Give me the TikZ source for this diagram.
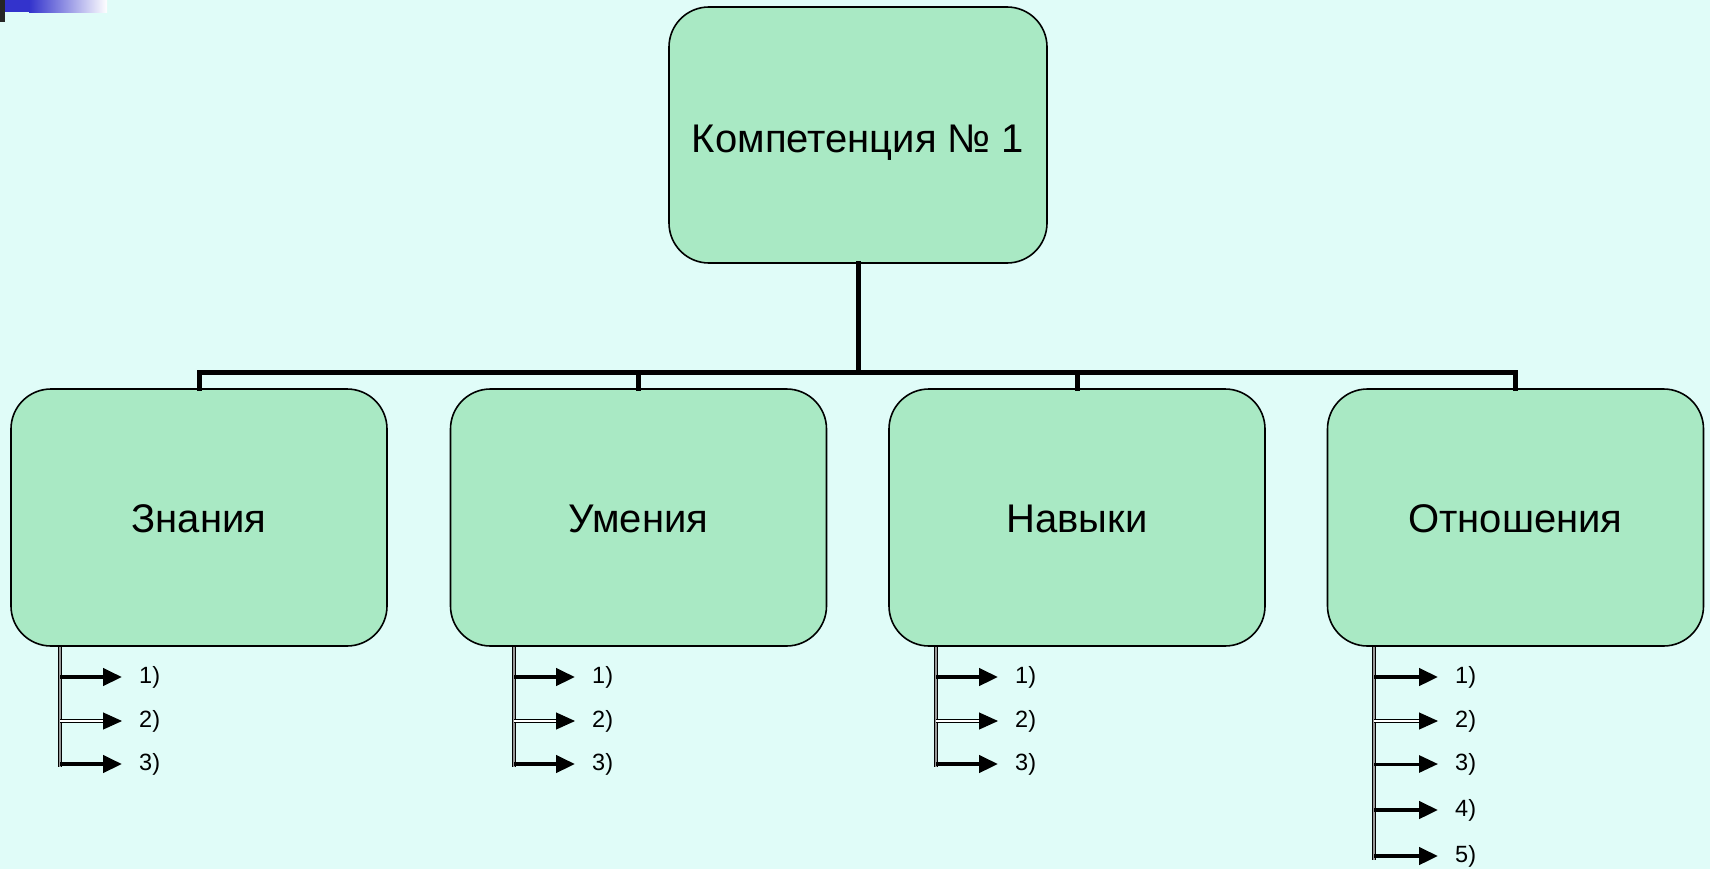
\documentclass[tikz,border=0pt]{standalone}
\usepackage{fontspec}
\setmainfont{Liberation Sans}
\usetikzlibrary{arrows.meta}
\definecolor{bg}{RGB}{224,252,248}
\definecolor{boxfill}{RGB}{169,233,196}
\definecolor{deco}{RGB}{51,51,204}
\tikzset{
  box/.style={draw=black, line width=1.6pt, fill=boxfill, rounded corners=40pt,
    minimum width=376pt, minimum height=257pt, inner sep=0pt, text depth=0pt,
    font=\fontsize{40}{48}\selectfont},
  bar/.style={line width=5pt, line join=miter, line cap=rect},
  vline/.style={draw=black, line width=1pt, double=gray!80, double distance=2pt},
  subarr/.style={line width=4.5pt, -{Triangle[length=19pt,width=17pt]}},
  subarrd/.style={draw=black, line width=1pt, double=white, double distance=2.5pt, -{Triangle[length=19pt,width=17pt]}},
  subarrt/.style={line width=3pt, -{Triangle[length=19pt,width=17pt]}},
  lab/.style={anchor=west, inner sep=0pt, font=\fontsize{23.5}{28}\selectfont}
}
\begin{document}
\begin{tikzpicture}[x=1pt,y=-1pt]
\fill[bg] (0,0) rectangle (1710,869);
\useasboundingbox (0,0) rectangle (1710,869);
% top-left decoration
\fill[black!85] (0,0) rectangle (5,22);
\fill[deco] (5,0) rectangle (29,12);
\shade[left color=deco, right color=white] (29,0) rectangle (107,13);

\node[box, minimum width=378pt, minimum height=256pt] (top) at (858,135) {\raisebox{-6.5pt}{Компетенция № 1}};
\node[box] (c1) at (199,517.5) {\raisebox{-2pt}{Знания}};
\node[box] (c2) at (638.5,517.5) {\raisebox{-2pt}{Умения}};
\node[box] (c3) at (1077,517.5) {\raisebox{-2pt}{Навыки}};
\node[box] (c4) at (1515.5,517.5) {\raisebox{-2pt}{Отношения}};

\coordinate (j) at (858,372);
\draw[bar] (top.south) -- (j);
\draw[bar] (c1.north) -- (c1.north |- j) -- (c4.north |- j) -- (c4.north);
\draw[bar] (c2.north) -- (c2.north |- j);
\draw[bar] (c3.north) -- (c3.north |- j);

% sub items
\foreach \c/\vx/\ax/\lx/\n in {c1/60/122/139/3, c2/514/575/592/3, c3/936/998/1015/3, c4/1374/1438/1455/5}{
  \coordinate (\c v) at (\vx,647);
  \foreach \i/\y in {1/677,2/721,3/764,4/810,5/856}{
    \ifnum\i>\n\else
      \node[lab] (\c l\i) at (\lx,\y) {\i)};
      \coordinate (\c a\i) at (\ax,\y);
    \fi
  }
}
\foreach \c/\n/\e in {c1/3/767, c2/3/767, c3/3/767, c4/5/860}{
  \draw[vline] (\c v) -- (\c v |- 0,\e);
}
\foreach \c in {c1,c2,c3}{
  \draw[subarr] (\c v |- \c l1) -- (\c a1);
  \draw[subarrd] (\c v |- \c l2) -- (\c a2);
  \draw[subarr] (\c v |- \c l3) -- (\c a3);
}
\draw[subarr] (c4v |- c4l1) -- (c4a1);
\draw[subarrd] (c4v |- c4l2) -- (c4a2);
\draw[subarrt] (c4v |- c4l3) -- (c4a3);
\draw[subarr] (c4v |- c4l4) -- (c4a4);
\draw[subarr] (c4v |- c4l5) -- (c4a5);
\end{tikzpicture}
\end{document}
